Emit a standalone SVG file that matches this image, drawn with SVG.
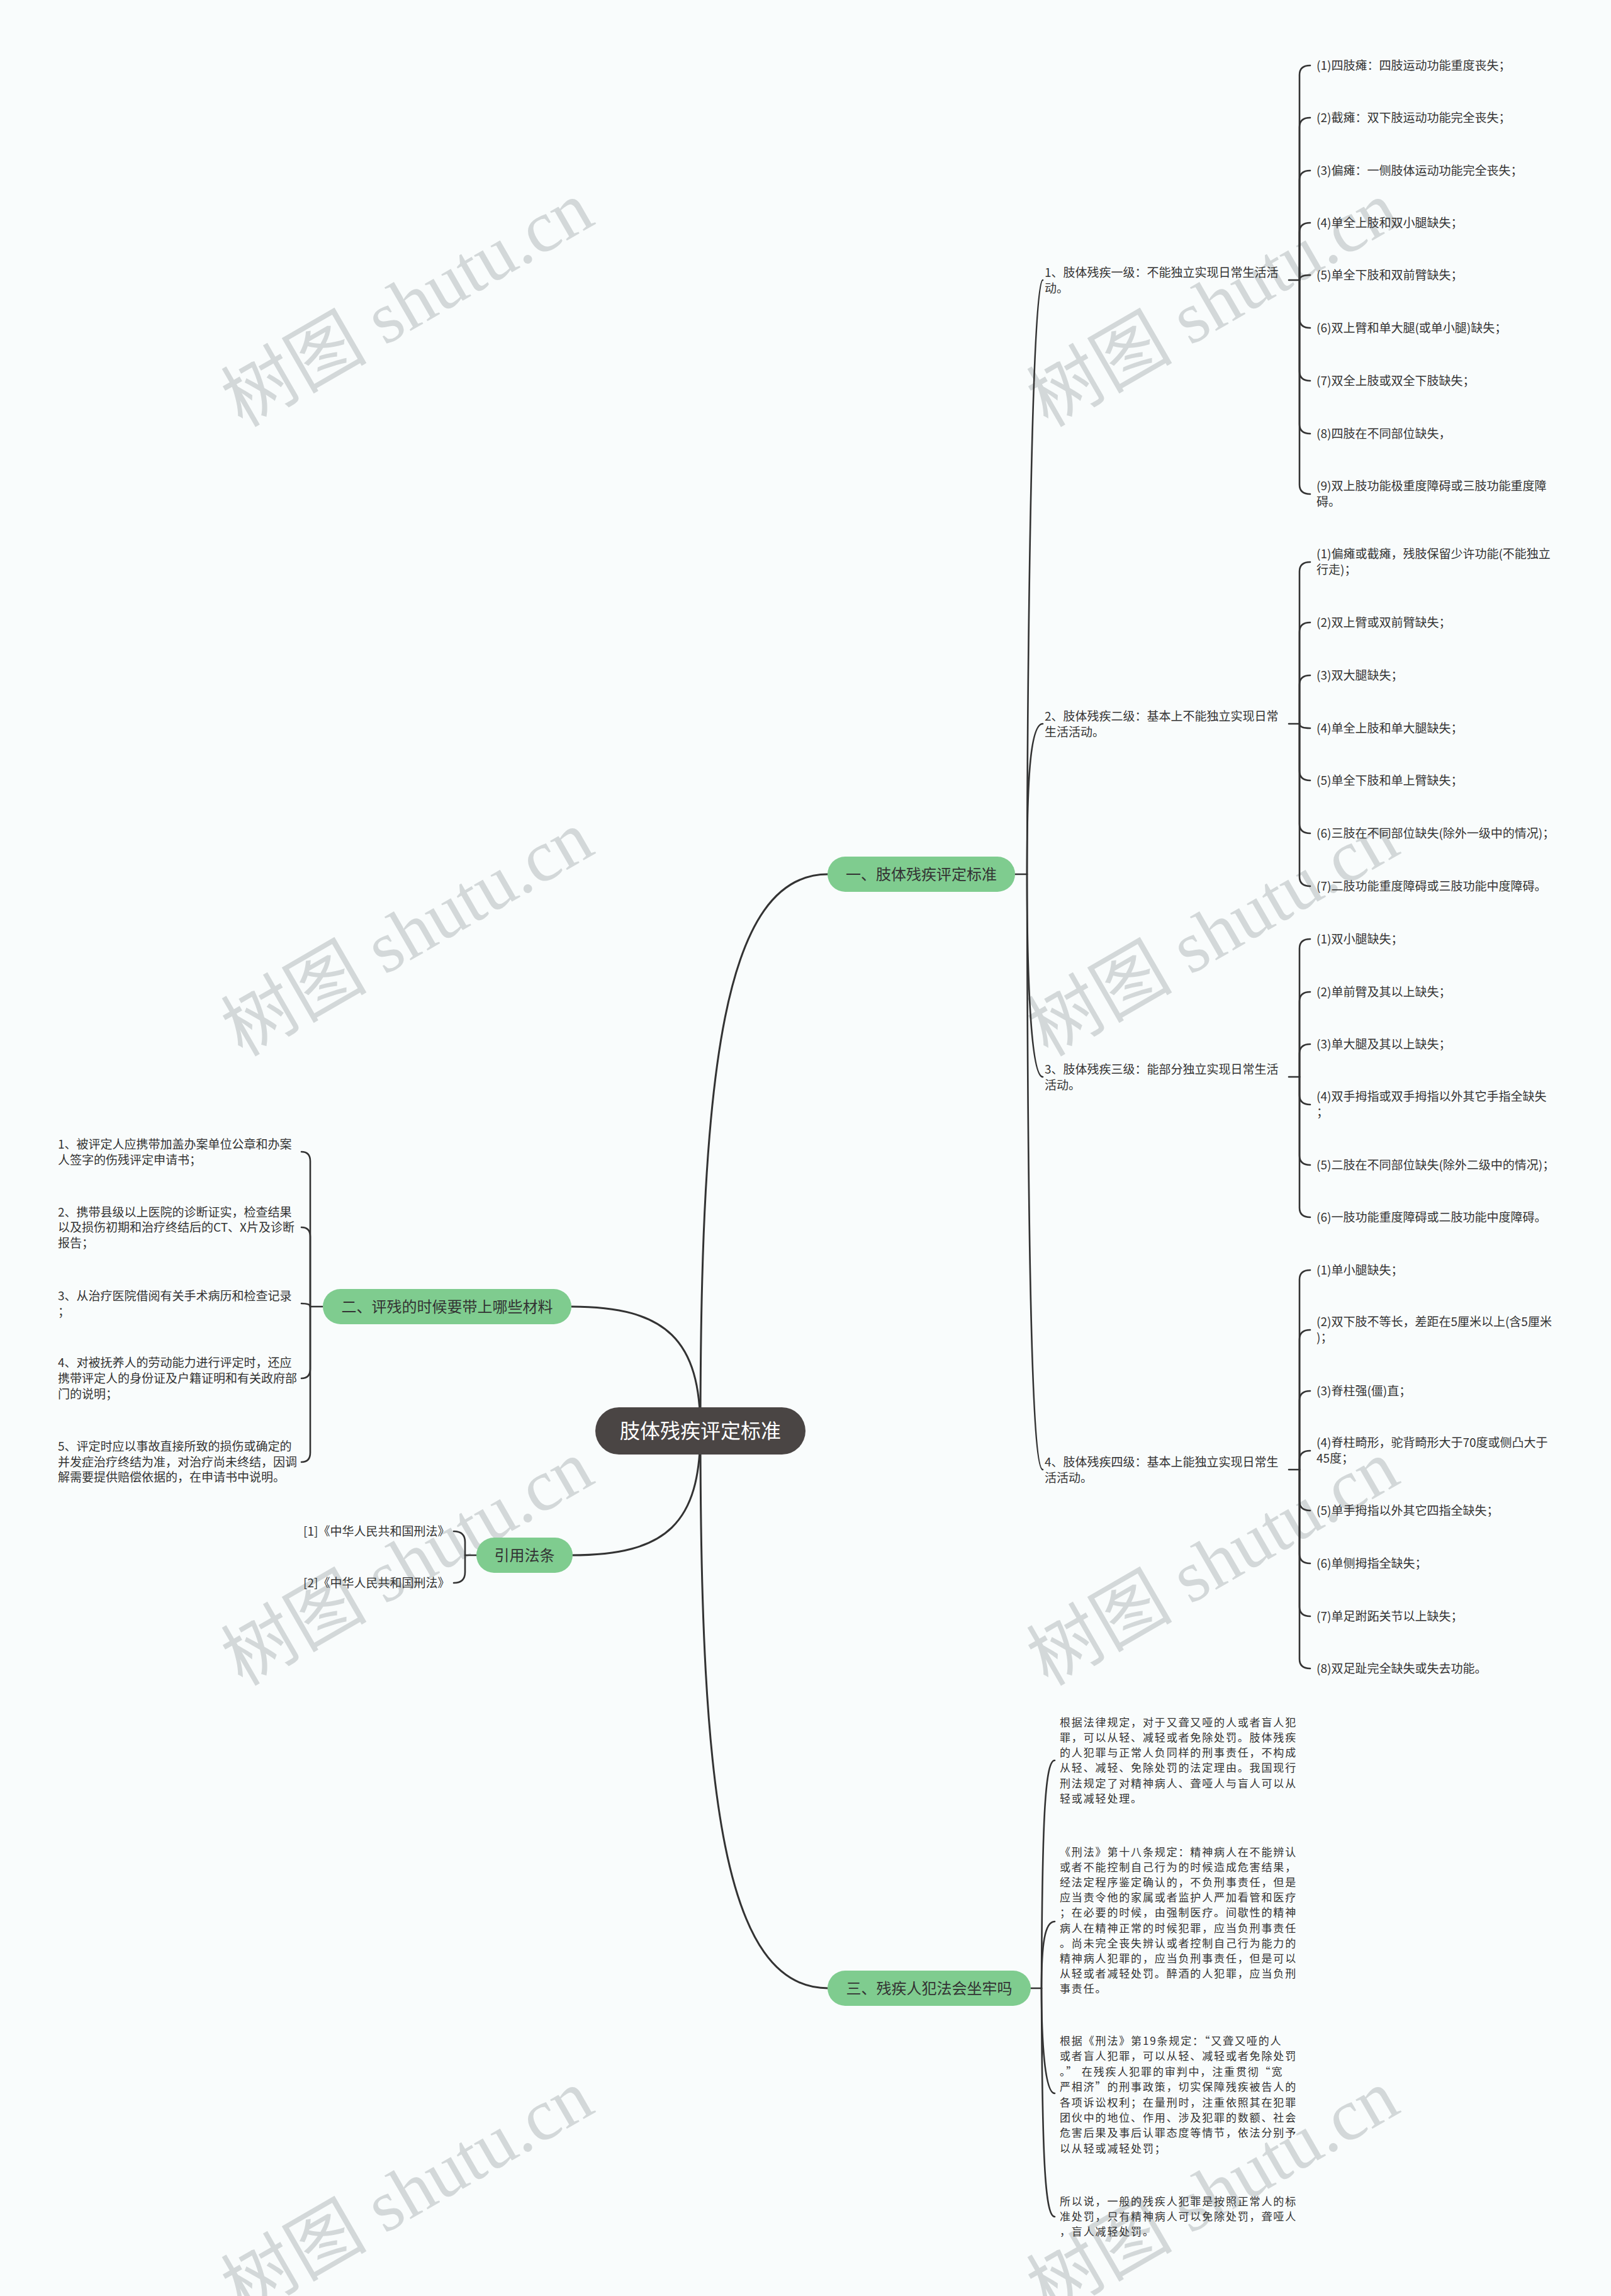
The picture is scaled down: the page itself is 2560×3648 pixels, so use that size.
<svg xmlns="http://www.w3.org/2000/svg" width="2560" height="3648" viewBox="0 0 2560 3648">
<style>
.ln{fill:none;stroke:#333;stroke-width:2.6;stroke-linecap:round}
.mn{fill:none;stroke:#333;stroke-width:3}
.t{font-family:"Noto Sans CJK SC","Microsoft YaHei",sans-serif;font-size:19px;fill:#333}
.p{font-family:"Noto Sans CJK SC",sans-serif;font-size:17px;letter-spacing:1.85px;fill:#333}
.pill{fill:#7fcc8f}
.pt{font-family:"Noto Sans CJK SC",sans-serif;font-size:24px;fill:#333;text-anchor:middle}
.wm{font-family:"Liberation Serif","Noto Sans CJK SC",serif;font-size:116px;fill:#d3d8d9}
</style>
<rect width="2560" height="3648" fill="#f9fcfc"/>
<g id="watermarks">
<text class="wm" transform="translate(385,680) rotate(-30)">树图 shutu.cn</text>
<text class="wm" transform="translate(1665,680) rotate(-30)">树图 shutu.cn</text>
<text class="wm" transform="translate(385,1680) rotate(-30)">树图 shutu.cn</text>
<text class="wm" transform="translate(1665,1680) rotate(-30)">树图 shutu.cn</text>
<text class="wm" transform="translate(385,2680) rotate(-30)">树图 shutu.cn</text>
<text class="wm" transform="translate(1665,2680) rotate(-30)">树图 shutu.cn</text>
<text class="wm" transform="translate(385,3680) rotate(-30)">树图 shutu.cn</text>
<text class="wm" transform="translate(1665,3680) rotate(-30)">树图 shutu.cn</text>
</g>
<g id="connectors">
<path class="mn" d="M1113,2273 C1113,1700 1150,1389 1316,1389"/>
<path class="mn" d="M1113,2273 C1113,2850 1150,3159 1316,3159"/>
<path class="mn" d="M908,2076 C1060,2076 1113,2130 1113,2273"/>
<path class="mn" d="M908,2471 C1060,2471 1113,2420 1113,2273"/>
<!-- branch 1 level 2 -->
<path class="ln" d="M1613,1389 L1632,1389"/>
<path class="ln" d="M1632,1389 C1633,1000 1640,445 1657,445"/>
<path class="ln" d="M1632,1389 C1632,1250 1636,1150 1657,1150"/>
<path class="ln" d="M1632,1389 C1632,1550 1638,1711 1657,1711"/>
<path class="ln" d="M1632,1389 C1633,2000 1640,2335 1657,2335"/>
<!-- group 1 -->
<path class="ln" d="M2048,445 L2065,445"/>
<path class="ln" d="M2065,445 L2065,119 Q2065,104 2082,104"/>
<path class="ln" d="M2065,445 L2065,202 Q2065,187 2082,187"/>
<path class="ln" d="M2065,445 L2065,286 Q2065,271 2082,271"/>
<path class="ln" d="M2065,445 L2065,369 Q2065,354 2082,354"/>
<path class="ln" d="M2065,445 Q2065,437 2082,437"/>
<path class="ln" d="M2065,445 L2065,506 Q2065,521 2082,521"/>
<path class="ln" d="M2065,445 L2065,590 Q2065,605 2082,605"/>
<path class="ln" d="M2065,445 L2065,674 Q2065,689 2082,689"/>
<path class="ln" d="M2065,445 L2065,770 Q2065,785 2082,785"/>
<!-- group 2 -->
<path class="ln" d="M2048,1150 L2065,1150"/>
<path class="ln" d="M2065,1150 L2065,908 Q2065,893 2082,893"/>
<path class="ln" d="M2065,1150 L2065,1004 Q2065,989 2082,989"/>
<path class="ln" d="M2065,1150 L2065,1088 Q2065,1073 2082,1073"/>
<path class="ln" d="M2065,1150 Q2065,1157 2082,1157"/>
<path class="ln" d="M2065,1150 L2065,1225 Q2065,1240 2082,1240"/>
<path class="ln" d="M2065,1150 L2065,1309 Q2065,1324 2082,1324"/>
<path class="ln" d="M2065,1150 L2065,1393 Q2065,1408 2082,1408"/>
<!-- group 3 -->
<path class="ln" d="M2048,1711 L2065,1711"/>
<path class="ln" d="M2065,1711 L2065,1507 Q2065,1492 2082,1492"/>
<path class="ln" d="M2065,1711 L2065,1591 Q2065,1576 2082,1576"/>
<path class="ln" d="M2065,1711 L2065,1674 Q2065,1659 2082,1659"/>
<path class="ln" d="M2065,1711 L2065,1740 Q2065,1755 2082,1755"/>
<path class="ln" d="M2065,1711 L2065,1836 Q2065,1851 2082,1851"/>
<path class="ln" d="M2065,1711 L2065,1919 Q2065,1934 2082,1934"/>
<!-- group 4 -->
<path class="ln" d="M2048,2335 L2065,2335"/>
<path class="ln" d="M2065,2335 L2065,2033 Q2065,2018 2082,2018"/>
<path class="ln" d="M2065,2335 L2065,2128 Q2065,2113 2082,2113"/>
<path class="ln" d="M2065,2335 L2065,2225 Q2065,2210 2082,2210"/>
<path class="ln" d="M2065,2335 L2065,2320 Q2065,2305 2082,2305"/>
<path class="ln" d="M2065,2335 L2065,2385 Q2065,2400 2082,2400"/>
<path class="ln" d="M2065,2335 L2065,2469 Q2065,2484 2082,2484"/>
<path class="ln" d="M2065,2335 L2065,2553 Q2065,2568 2082,2568"/>
<path class="ln" d="M2065,2335 L2065,2636 Q2065,2651 2082,2651"/>
<!-- branch 2 -->
<path class="ln" d="M513,2076 L493,2076"/>
<path class="ln" d="M493,2076 L493,1845 Q493,1830 479,1830"/>
<path class="ln" d="M493,2076 L493,1965 Q493,1950 479,1950"/>
<path class="ln" d="M493,2076 Q493,2071 479,2071"/>
<path class="ln" d="M493,2076 L493,2175 Q493,2190 479,2190"/>
<path class="ln" d="M493,2076 L493,2308 Q493,2323 479,2323"/>
<!-- citations -->
<path class="ln" d="M757,2471 L739,2471"/>
<path class="ln" d="M739,2471 L739,2450 Q739,2433 721,2433"/>
<path class="ln" d="M739,2471 L739,2498 Q739,2515 721,2515"/>
<!-- branch 3 -->
<path class="ln" d="M1638,3159 L1655,3159"/>
<path class="ln" d="M1655,3159 C1656,2900 1660,2797 1676,2797"/>
<path class="ln" d="M1655,3159 C1655,3090 1660,3053 1676,3053"/>
<path class="ln" d="M1655,3159 C1655,3240 1660,3326 1676,3326"/>
<path class="ln" d="M1655,3159 C1656,3420 1660,3522 1676,3522"/>
</g>

<g id="root">
<rect x="946" y="2236" width="334" height="75" rx="37.5" fill="#4a4544"/>
<text x="1113" y="2285" font-family="Noto Sans CJK SC,sans-serif" font-size="32" fill="#fff" text-anchor="middle">肢体残疾评定标准</text>
</g>

<g id="b1">
<rect class="pill" x="1315" y="1361" width="298" height="56" rx="28"/>
<text class="pt" x="1464" y="1398">一、肢体残疾评定标准</text>
</g>
<g id="b2">
<rect class="pill" x="513" y="2048" width="395" height="56" rx="28"/>
<text class="pt" x="710.5" y="2085">二、评残的时候要带上哪些材料</text>
</g>
<g id="b-cite">
<rect class="pill" x="757" y="2443" width="153" height="56" rx="28"/>
<text class="pt" x="833.5" y="2480">引用法条</text>
</g>
<g id="b3">
<rect class="pill" x="1315" y="3131" width="323" height="56" rx="28"/>
<text class="pt" x="1476.5" y="3168">三、残疾人犯法会坐牢吗</text>
</g>

<g id="l1"><text class="t"><tspan x="1660" y="440">1、肢体残疾一级：不能独立实现日常生活活</tspan><tspan x="1660" y="465">动。</tspan></text></g>
<g id="l2"><text class="t"><tspan x="1660" y="1145">2、肢体残疾二级：基本上不能独立实现日常</tspan><tspan x="1660" y="1170">生活活动。</tspan></text></g>
<g id="l3"><text class="t"><tspan x="1660" y="1706">3、肢体残疾三级：能部分独立实现日常生活</tspan><tspan x="1660" y="1731">活动。</tspan></text></g>
<g id="l4"><text class="t"><tspan x="1660" y="2330">4、肢体残疾四级：基本上能独立实现日常生</tspan><tspan x="1660" y="2355">活活动。</tspan></text></g>

<g id="g1">
<text class="t" x="2092" y="111">(1)四肢瘫：四肢运动功能重度丧失；</text>
<text class="t" x="2092" y="194">(2)截瘫：双下肢运动功能完全丧失；</text>
<text class="t" x="2092" y="278">(3)偏瘫：一侧肢体运动功能完全丧失；</text>
<text class="t" x="2092" y="361">(4)单全上肢和双小腿缺失；</text>
<text class="t" x="2092" y="444">(5)单全下肢和双前臂缺失；</text>
<text class="t" x="2092" y="528">(6)双上臂和单大腿(或单小腿)缺失；</text>
<text class="t" x="2092" y="612">(7)双全上肢或双全下肢缺失；</text>
<text class="t" x="2092" y="696">(8)四肢在不同部位缺失，</text>
<text class="t"><tspan x="2092" y="779">(9)双上肢功能极重度障碍或三肢功能重度障</tspan><tspan x="2092" y="804">碍。</tspan></text>
</g>
<g id="g2">
<text class="t"><tspan x="2092" y="887">(1)偏瘫或截瘫，残肢保留少许功能(不能独立</tspan><tspan x="2092" y="912">行走)；</tspan></text>
<text class="t" x="2092" y="996">(2)双上臂或双前臂缺失；</text>
<text class="t" x="2092" y="1080">(3)双大腿缺失；</text>
<text class="t" x="2092" y="1164">(4)单全上肢和单大腿缺失；</text>
<text class="t" x="2092" y="1247">(5)单全下肢和单上臂缺失；</text>
<text class="t" x="2092" y="1331">(6)三肢在不同部位缺失(除外一级中的情况)；</text>
<text class="t" x="2092" y="1415">(7)二肢功能重度障碍或三肢功能中度障碍。</text>
</g>
<g id="g3">
<text class="t" x="2092" y="1499">(1)双小腿缺失；</text>
<text class="t" x="2092" y="1583">(2)单前臂及其以上缺失；</text>
<text class="t" x="2092" y="1666">(3)单大腿及其以上缺失；</text>
<text class="t"><tspan x="2092" y="1749">(4)双手拇指或双手拇指以外其它手指全缺失</tspan><tspan x="2092" y="1774">；</tspan></text>
<text class="t" x="2092" y="1858">(5)二肢在不同部位缺失(除外二级中的情况)；</text>
<text class="t" x="2092" y="1941">(6)一肢功能重度障碍或二肢功能中度障碍。</text>
</g>
<g id="g4">
<text class="t" x="2092" y="2025">(1)单小腿缺失；</text>
<text class="t"><tspan x="2092" y="2107">(2)双下肢不等长，差距在5厘米以上(含5厘米</tspan><tspan x="2092" y="2132">)；</tspan></text>
<text class="t" x="2092" y="2217">(3)脊柱强(僵)直；</text>
<text class="t"><tspan x="2092" y="2299">(4)脊柱畸形，驼背畸形大于70度或侧凸大于</tspan><tspan x="2092" y="2324">45度；</tspan></text>
<text class="t" x="2092" y="2407">(5)单手拇指以外其它四指全缺失；</text>
<text class="t" x="2092" y="2491">(6)单侧拇指全缺失；</text>
<text class="t" x="2092" y="2575">(7)单足跗跖关节以上缺失；</text>
<text class="t" x="2092" y="2658">(8)双足趾完全缺失或失去功能。</text>
</g>

<g id="m2">
<text class="t"><tspan x="92" y="1825">1、被评定人应携带加盖办案单位公章和办案</tspan><tspan x="92" y="1850">人签字的伤残评定申请书；</tspan></text>
<text class="t"><tspan x="92" y="1933">2、携带县级以上医院的诊断证实，检查结果</tspan><tspan x="92" y="1957">以及损伤初期和治疗终结后的CT、X片及诊断</tspan><tspan x="92" y="1982">报告；</tspan></text>
<text class="t"><tspan x="92" y="2066">3、从治疗医院借阅有关手术病历和检查记录</tspan><tspan x="92" y="2091">；</tspan></text>
<text class="t"><tspan x="92" y="2172">4、对被抚养人的劳动能力进行评定时，还应</tspan><tspan x="92" y="2197">携带评定人的身份证及户籍证明和有关政府部</tspan><tspan x="92" y="2222">门的说明；</tspan></text>
<text class="t"><tspan x="92" y="2305">5、评定时应以事故直接所致的损伤或确定的</tspan><tspan x="92" y="2330">并发症治疗终结为准，对治疗尚未终结，因调</tspan><tspan x="92" y="2354">解需要提供赔偿依据的，在申请书中说明。</tspan></text>
</g>

<g id="cites">
<text class="t" x="482" y="2440">[1]《中华人民共和国刑法》</text>
<text class="t" x="482" y="2522">[2]《中华人民共和国刑法》</text>
</g>

<g id="m3">
<text class="p"><tspan x="1684" y="2743">根据法律规定，对于又聋又哑的人或者盲人犯</tspan><tspan x="1684" y="2767">罪，可以从轻、减轻或者免除处罚。肢体残疾</tspan><tspan x="1684" y="2791">的人犯罪与正常人负同样的刑事责任，不构成</tspan><tspan x="1684" y="2815">从轻、减轻、免除处罚的法定理由。我国现行</tspan><tspan x="1684" y="2840">刑法规定了对精神病人、聋哑人与盲人可以从</tspan><tspan x="1684" y="2864">轻或减轻处理。</tspan></text>
<text class="p"><tspan x="1684" y="2949">《刑法》第十八条规定：精神病人在不能辨认</tspan><tspan x="1684" y="2973">或者不能控制自己行为的时候造成危害结果，</tspan><tspan x="1684" y="2997">经法定程序鉴定确认的，不负刑事责任，但是</tspan><tspan x="1684" y="3021">应当责令他的家属或者监护人严加看管和医疗</tspan><tspan x="1684" y="3045">；在必要的时候，由强制医疗。间歇性的精神</tspan><tspan x="1684" y="3070">病人在精神正常的时候犯罪，应当负刑事责任</tspan><tspan x="1684" y="3094">。尚未完全丧失辨认或者控制自己行为能力的</tspan><tspan x="1684" y="3118">精神病人犯罪的，应当负刑事责任，但是可以</tspan><tspan x="1684" y="3142">从轻或者减轻处罚。醉酒的人犯罪，应当负刑</tspan><tspan x="1684" y="3166">事责任。</tspan></text>
<text class="p"><tspan x="1684" y="3249">根据《刑法》第19条规定：“又聋又哑的人</tspan><tspan x="1684" y="3273">或者盲人犯罪，可以从轻、减轻或者免除处罚</tspan><tspan x="1684" y="3298">。” 在残疾人犯罪的审判中，注重贯彻“宽</tspan><tspan x="1684" y="3322">严相济”的刑事政策，切实保障残疾被告人的</tspan><tspan x="1684" y="3347">各项诉讼权利；在量刑时，注重依照其在犯罪</tspan><tspan x="1684" y="3371">团伙中的地位、作用、涉及犯罪的数额、社会</tspan><tspan x="1684" y="3395">危害后果及事后认罪态度等情节，依法分别予</tspan><tspan x="1684" y="3420">以从轻或减轻处罚；</tspan></text>
<text class="p"><tspan x="1684" y="3504">所以说，一般的残疾人犯罪是按照正常人的标</tspan><tspan x="1684" y="3528">准处罚，只有精神病人可以免除处罚，聋哑人</tspan><tspan x="1684" y="3552">，盲人减轻处罚。</tspan></text>
</g>
</svg>
